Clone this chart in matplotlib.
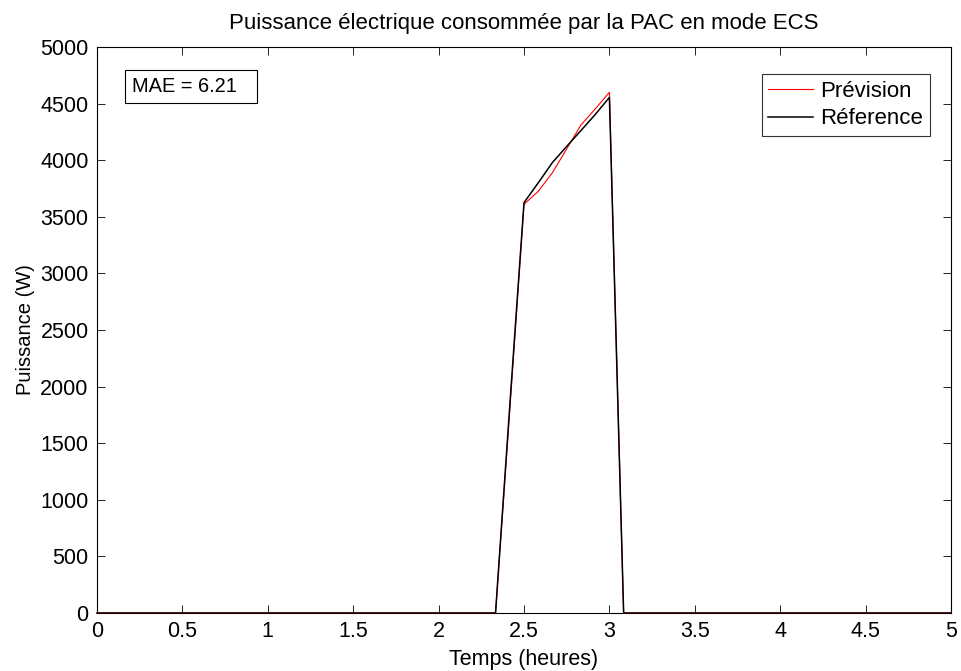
import numpy as np
import matplotlib
matplotlib.use("Agg")
import matplotlib.pyplot as plt
from matplotlib.patches import Rectangle

plt.rcParams['font.family'] = ['Liberation Sans', 'DejaVu Sans']

# time in hours, 5-minute steps
time_h = np.arange(0, 61) / 12.0

# non-zero part of the signals (indices 28..37 -> 2.333 h .. 3.083 h)
ref_active = [0, 1830, 3625, 3800, 3980, 4122, 4262, 4403, 4555, 0]
prev_active = [0, 1790, 3610, 3725, 3890, 4100, 4311, 4452, 4600, 0]
start_idx = 28

reference = np.zeros(len(time_h))
prevision = np.zeros(len(time_h))
reference[start_idx:start_idx + len(ref_active)] = ref_active
prevision[start_idx:start_idx + len(prev_active)] = prev_active

title = "Puissance électrique consommée par la PAC en mode ECS"
xlabel = "Temps (heures)"
ylabel = "Puissance (W)"
mae_text = "MAE = 6.21"
xticks = [0, 0.5, 1, 1.5, 2, 2.5, 3, 3.5, 4, 4.5, 5]
xticklabels = ["0", "0.5", "1", "1.5", "2", "2.5", "3", "3.5", "4", "4.5", "5"]
yticks = list(range(0, 5001, 500))

W, H = 962, 671
fig = plt.figure(figsize=(W / 100, H / 100), dpi=100)
ax = fig.add_axes([97 / W, 1 - 613 / H, (951 - 97) / W, (613 - 47) / H])

ax.plot(time_h, prevision, color='#ff0000', lw=0.8, label='Prévision', zorder=3, clip_on=False)
ax.plot(time_h, reference, color='black', lw=1.1, label='Réference', zorder=3.1, clip_on=False)

ax.set_xlim(0, 5)
ax.set_ylim(0, 5000)
ax.set_xticks(xticks)
ax.set_xticklabels(xticklabels)
ax.set_yticks(yticks)
ax.tick_params(direction='in', top=True, right=True, length=6, width=0.6,
               labelsize=15.5, pad=6)
for s in ax.spines.values():
    s.set_linewidth(0.8)

ax.set_title(title, fontsize=16, pad=13)
ax.set_xlabel(xlabel, fontsize=15.5, labelpad=5)
ax.set_ylabel(ylabel, fontsize=14.5, labelpad=4)

leg = ax.legend(loc='upper right', bbox_to_anchor=((930 - 97) / (951 - 97), (613 - 74) / (613 - 47)),
                fontsize=16, frameon=True, fancybox=False, edgecolor='black', handlelength=2.0,
                handletextpad=0.35, borderpad=0.3, labelspacing=0.3, borderaxespad=0)
leg.get_frame().set_linewidth(0.8)

# MAE annotation box (figure pixel coords)
fig.patches.append(Rectangle((125 / W, 1 - 103 / H), (257 - 125) / W, (103 - 70) / H,
                             transform=fig.transFigure, facecolor='white', edgecolor='black',
                             linewidth=0.8, zorder=5))
fig.text(132 / W, 1 - 87 / H, mae_text, fontsize=14.4, va='center', ha='left', zorder=6)

fig.savefig('out.png', dpi=100)
